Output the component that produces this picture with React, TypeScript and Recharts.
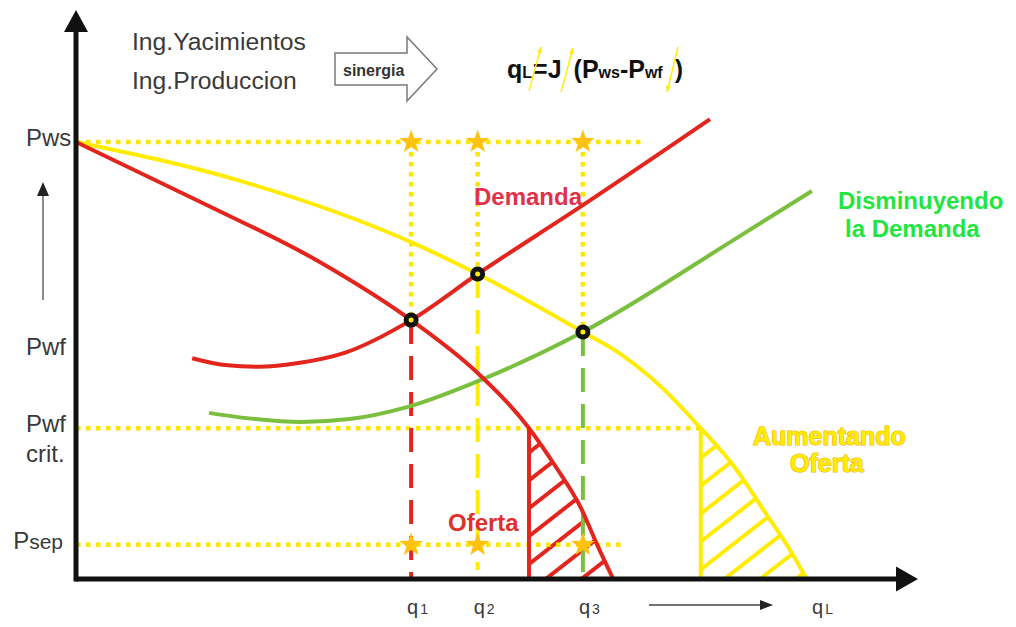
import React from 'react';
import {
  ComposedChart,
  Line,
  Area,
  Scatter,
  XAxis,
  YAxis,
  ReferenceLine,
} from 'recharts';

// pressure levels (y units)
const PWS = 76.8;
const PWF = 40.1;
const PWF_CRIT = 26.5;
const PSEP = 6.0;

// rates (x units)
const Q1 = 39.8;
const Q2 = 47.7;
const Q3 = 60.2;
const Q_L = 87.9;

// oferta actual (IPR)
const iprActual = [
  { q: 0, p: 76.8 },
  { q: 14.3, p: 66.6 },
  { q: 29.2, p: 55.5 },
  { q: 39.8, p: 45.5 },
  { q: 47.7, p: 36.2 },
  { q: 53.8, p: 26.5 },
  { q: 56.9, p: 19.9 },
  { q: 59.9, p: 12.7 },
  { q: 61.9, p: 6.0 },
  { q: 63.8, p: 0 },
];

// oferta aumentada
const iprAumentada = [
  { q: 0, p: 76.8 },
  { q: 19.2, p: 70.1 },
  { q: 39.8, p: 59.2 },
  { q: 47.7, p: 53.6 },
  { q: 60.2, p: 43.4 },
  { q: 64.6, p: 39.6 },
  { q: 69.4, p: 33.9 },
  { q: 74.2, p: 26.5 },
  { q: 78.3, p: 19.5 },
  { q: 81.8, p: 11.8 },
  { q: 84.8, p: 5.1 },
  { q: 86.8, p: 0 },
];

// demanda actual (VLP)
const demandaActual = [
  { q: 13.8, p: 38.8 },
  { q: 17.7, p: 37.6 },
  { q: 21.7, p: 37.3 },
  { q: 26.6, p: 38.0 },
  { q: 31.8, p: 39.7 },
  { q: 39.8, p: 45.5 },
  { q: 47.7, p: 53.6 },
  { q: 60.2, p: 65.7 },
  { q: 75.3, p: 80.8 },
];

// demanda disminuida
const demandaReducida = [
  { q: 15.8, p: 29.2 },
  { q: 21.3, p: 28.1 },
  { q: 26.7, p: 27.6 },
  { q: 32.5, p: 28.1 },
  { q: 39.3, p: 30.2 },
  { q: 48.6, p: 35.3 },
  { q: 60.2, p: 43.4 },
  { q: 77.7, p: 59.2 },
  { q: 87.4, p: 68.2 },
];

// puntos de operacion
const operacion = [
  { q: Q1, p: 45.5 },
  { q: Q2, p: 53.6 },
  { q: Q3, p: 43.4 },
];

const estrellas = [Q1, Q2, Q3].flatMap((q) => [
  { q, p: PWS },
  { q, p: PSEP },
]);

const yLabels = [
  { value: PWS, lines: ['Pws'] },
  { value: PWF, lines: ['Pwf'] },
  { value: PWF_CRIT, lines: ['Pwf', 'crit.'] },
  { value: PSEP, main: 'P', sub: 'sep' },
];

const xLabels = [
  { value: Q1, main: 'q', sub: '1' },
  { value: Q2, main: 'q', sub: '2' },
  { value: Q3, main: 'q', sub: '3' },
  { value: Q_L, main: 'q', sub: 'L' },
];

// hatched zones below Pwf crit.
const hatchActual = iprActual.filter((d) => d.p <= PWF_CRIT);
const hatchAumentada = iprAumentada.filter((d) => d.p <= PWF_CRIT);

const FONT = '"Liberation Sans", Arial, Helvetica, sans-serif';
const RED = '#e2261d';
const YELLOW = '#ffec00';
const DOTTED = '#fbe600';
const GREEN = '#7bbf3e';
const STAR = '#ffc20f';
const AXIS = '#111';
const TEXT = '#3a3a3a';

const W = 1000;
const H = 611;

const starPath = (cx: number, cy: number, R: number, r: number) => {
  let d = '';
  for (let i = 0; i < 10; i++) {
    const rad = i % 2 === 0 ? R : r;
    const a = -Math.PI / 2 + (i * Math.PI) / 5;
    d += (i === 0 ? 'M' : 'L') + (cx + rad * Math.cos(a)).toFixed(1) + ',' + (cy + rad * Math.sin(a)).toFixed(1);
  }
  return d + 'Z';
};

const StarShape = ({ cx, cy }: any) => <path d={starPath(cx, cy, 12.5, 5)} fill={STAR} />;

const OpDot = ({ cx, cy }: any) => (
  <g>
    <circle cx={cx} cy={cy} r={7.5} fill="#111" />
    <circle cx={cx} cy={cy} r={2.5} fill={YELLOW} />
  </g>
);

const ArrowRight = ({ cx, cy }: any) => (
  <path d={`M${cx},${cy} L${cx - 22},${cy - 12.5} L${cx - 22},${cy + 12.5} Z`} fill={AXIS} />
);

const ArrowUp = ({ cx, cy }: any) => (
  <path d={`M${cx},${cy} L${cx - 12},${cy + 22} L${cx + 12},${cy + 22} Z`} fill={AXIS} />
);

const findLabel = (list: any[], v: number) => list.find((l) => Math.abs(l.value - v) < 0.01);

const XTick = ({ x, payload }: any) => {
  const lbl = findLabel(xLabels, payload.value);
  if (!lbl) return null;
  return (
    <text x={x - 4} y={606} fontFamily={FONT} fill={TEXT} textAnchor="start">
      <tspan fontSize={20}>{lbl.main}</tspan>
      <tspan fontSize={14} dx={2}>{lbl.sub}</tspan>
    </text>
  );
};

const YTick = ({ y, payload }: any) => {
  const lbl = findLabel(yLabels, payload.value);
  if (!lbl) return null;
  if (lbl.sub) {
    return (
      <text x={55} y={y + 4} fontFamily={FONT} fill={TEXT} textAnchor="end">
        <tspan fontSize={24}>{lbl.main}</tspan>
        <tspan fontSize={21}>{lbl.sub}</tspan>
      </text>
    );
  }
  return (
    <g>
      {lbl.lines.map((t: string, i: number) => (
        <text key={t} x={18} y={y + 4 + i * 30} fontFamily={FONT} fontSize={24} fill={TEXT}>
          {t}
        </text>
      ))}
    </g>
  );
};

const SmallArrow = ({ x1, y1, x2, y2 }: { x1: number; y1: number; x2: number; y2: number }) => {
  const a = Math.atan2(y2 - y1, x2 - x1);
  const hx = (s: number) => x2 - 6 * Math.cos(a) + s * 2.5 * Math.sin(a);
  const hy = (s: number) => y2 - 6 * Math.sin(a) - s * 2.5 * Math.cos(a);
  return (
    <g>
      <line x1={x1} y1={y1} x2={x2} y2={y2} stroke={YELLOW} strokeWidth={1.4} />
      <path d={`M${x2},${y2} L${hx(1)},${hy(1)} L${hx(-1)},${hy(-1)} Z`} fill={YELLOW} />
    </g>
  );
};

const Annotations = () => (
  <svg
    width={W}
    height={H}
    style={{ position: 'absolute', left: 0, top: 0, pointerEvents: 'none' }}
    fontFamily={FONT}
  >
    <text x={124} y={42} fontSize={24.7} fill={TEXT}>Ing.Yacimientos</text>
    <text x={124} y={81} fontSize={24.7} fill={TEXT}>Ing.Produccion</text>

    <polygon
      points="327,45 399,45 399,29 429,61 399,93 399,77 327,77"
      fill="#fff"
      stroke="#7a7a7a"
      strokeWidth={1.5}
    />
    <text x={335} y={68} fontSize={16} fontWeight="bold" fill="#333">sinergia</text>

    <text x={499} y={70} fontSize={25} fontWeight="bold" fill="#111">
      q<tspan fontSize={16}>L</tspan>
      <tspan dx={1}>=J</tspan>
      <tspan dx={12}>(P</tspan>
      <tspan fontSize={16}>ws</tspan>
      <tspan>-P</tspan>
      <tspan fontSize={16}>wf</tspan>
      <tspan dx={12}>)</tspan>
    </text>
    <SmallArrow x1={521} y1={83} x2={533} y2={39} />
    <SmallArrow x1={553} y1={84} x2={565} y2={40} />
    <SmallArrow x1={670} y1={39} x2={659} y2={84} />

    <line x1={35} y1={292} x2={35} y2={186} stroke="#666" strokeWidth={1.5} />
    <path d="M35,174 L29,188 L41,188 Z" fill="#222" />

    <line x1={641} y1={597} x2={754} y2={597} stroke="#444" strokeWidth={1.5} />
    <path d="M765,597 L752,592 L752,602 Z" fill="#222" />

    <g fontWeight="bold">
      <text x={466} y={197} fontSize={24} fill="#e2314a">Demanda</text>
      <text x={830} y={201} fontSize={24} fill="#22e640">Disminuyendo</text>
      <text x={837} y={229} fontSize={24} fill="#22e640">la Demanda</text>
      <text x={745} y={437} fontSize={25} fill={YELLOW} stroke="#f0b000" strokeWidth={1.2} paintOrder="stroke">
        Aumentando
      </text>
      <text x={782} y={464} fontSize={25} fill={YELLOW} stroke="#f0b000" strokeWidth={1.2} paintOrder="stroke">
        Oferta
      </text>
      <text x={440} y={523} fontSize={24} fill="#e0302c">Oferta</text>
    </g>
  </svg>
);

const dotted = { stroke: DOTTED, strokeWidth: 4.5, strokeDasharray: '4.5 5.5' };
const dashed = { strokeWidth: 4, strokeDasharray: '24 12' };

const App: React.FC = () => (
  <div style={{ position: 'relative', width: W, height: H }}>
    <ComposedChart width={W} height={H} margin={{ top: 2, right: 90, bottom: 0, left: 0 }}>
      <defs>
        <pattern id="hatchRed" width="22" height="22" patternUnits="userSpaceOnUse" patternTransform="rotate(-38)">
          <line x1="0" y1="11" x2="22" y2="11" stroke={RED} strokeWidth="4" />
        </pattern>
        <pattern id="hatchYellow" width="22" height="22" patternUnits="userSpaceOnUse" patternTransform="rotate(-38)">
          <line x1="0" y1="11" x2="22" y2="11" stroke={YELLOW} strokeWidth="4" />
        </pattern>
      </defs>
      <XAxis
        dataKey="q"
        type="number"
        domain={[0, 100]}
        ticks={xLabels.map((l) => l.value)}
        tick={<XTick />}
        axisLine={false}
        tickLine={false}
        height={40}
        interval={0}
      />
      <YAxis
        dataKey="p"
        type="number"
        domain={[0, 100]}
        ticks={yLabels.map((l) => l.value)}
        tick={<YTick />}
        axisLine={false}
        tickLine={false}
        width={68}
        interval={0}
      />

      <Area data={hatchActual} dataKey="p" type="monotone" stroke="none" fill="url(#hatchRed)" fillOpacity={1} isAnimationActive={false} />
      <Area data={hatchAumentada} dataKey="p" type="monotone" stroke="none" fill="url(#hatchYellow)" fillOpacity={1} isAnimationActive={false} />

      <ReferenceLine segment={[{ x: 0, y: PWS }, { x: 67.2, y: PWS }]} {...dotted} />
      <ReferenceLine segment={[{ x: 0, y: PWF_CRIT }, { x: hatchAumentada[0].q, y: PWF_CRIT }]} {...dotted} />
      <ReferenceLine segment={[{ x: 0, y: PSEP }, { x: 65.2, y: PSEP }]} {...dotted} />
      {operacion.map((o) => (
        <ReferenceLine key={o.q} segment={[{ x: o.q, y: PWS }, { x: o.q, y: o.p }]} {...dotted} />
      ))}

      <ReferenceLine segment={[{ x: hatchActual[0].q, y: 0 }, { x: hatchActual[0].q, y: PWF_CRIT }]} stroke={RED} strokeWidth={4} />
      <ReferenceLine segment={[{ x: hatchAumentada[0].q, y: 0 }, { x: hatchAumentada[0].q, y: PWF_CRIT }]} stroke={YELLOW} strokeWidth={4} />

      <ReferenceLine segment={[{ x: Q1, y: operacion[0].p }, { x: Q1, y: 0 }]} stroke={RED} {...dashed} />
      <ReferenceLine segment={[{ x: Q2, y: operacion[1].p }, { x: Q2, y: 1.6 }]} stroke={YELLOW} {...dashed} />
      <ReferenceLine segment={[{ x: Q3, y: operacion[2].p }, { x: Q3, y: 0 }]} stroke={GREEN} {...dashed} />

      <Line data={iprAumentada} dataKey="p" type="monotone" stroke={YELLOW} strokeWidth={4} dot={false} activeDot={false} isAnimationActive={false} />
      <Line data={demandaReducida} dataKey="p" type="monotone" stroke={GREEN} strokeWidth={4} dot={false} activeDot={false} isAnimationActive={false} />
      <Line data={iprActual} dataKey="p" type="monotone" stroke={RED} strokeWidth={4} dot={false} activeDot={false} isAnimationActive={false} />
      <Line data={demandaActual} dataKey="p" type="monotone" stroke={RED} strokeWidth={4} dot={false} activeDot={false} isAnimationActive={false} />

      <ReferenceLine segment={[{ x: 0, y: 0 }, { x: 98, y: 0 }]} stroke={AXIS} strokeWidth={5} ifOverflow="visible" />
      <ReferenceLine segment={[{ x: 0, y: 0 }, { x: 0, y: 97 }]} stroke={AXIS} strokeWidth={5} strokeLinecap="square" ifOverflow="visible" />
      <Scatter data={[{ q: 100, p: 0 }]} dataKey="p" shape={<ArrowRight />} isAnimationActive={false} />
      <Scatter data={[{ q: 0, p: 100 }]} dataKey="p" shape={<ArrowUp />} isAnimationActive={false} />

      <Scatter data={estrellas} dataKey="p" shape={<StarShape />} isAnimationActive={false} />
      <Scatter data={operacion} dataKey="p" shape={<OpDot />} isAnimationActive={false} />
    </ComposedChart>
    <Annotations />
  </div>
);

export default App;
